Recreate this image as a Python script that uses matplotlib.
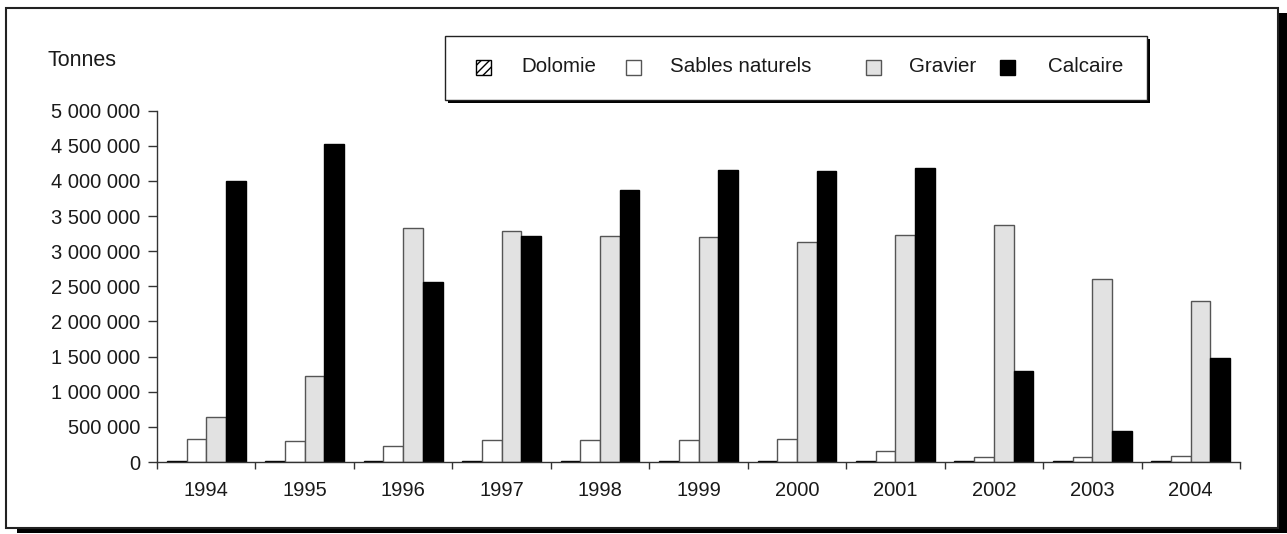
import numpy as np
import matplotlib
matplotlib.use("Agg")
import matplotlib.pyplot as plt
from matplotlib.patches import Rectangle
from matplotlib.ticker import FuncFormatter, MultipleLocator, FixedLocator

plt.rcParams['font.family'] = ['Liberation Sans', 'DejaVu Sans']
plt.rcParams['hatch.linewidth'] = 1.0

# Production annuelle par matériau (tonnes)
years = ['1994', '1995', '1996', '1997', '1998', '1999', '2000', '2001', '2002', '2003', '2004']
dolomie = [9000, 8000, 9000, 8000, 8000, 8000, 9000, 8000, 9000, 8000, 8000]
sables = [323000, 299000, 228000, 309000, 319000, 309000, 333000, 152000, 71000, 77000, 81000]
gravier = [641000, 1220000, 3330000, 3290000, 3215000, 3196000, 3125000, 3230000, 3376000, 2598000, 2290000]
calcaire = [4003000, 4520000, 2565000, 3215000, 3875000, 4160000, 4140000, 4180000, 1296000, 442000, 1480000]

W, H = 1287, 534
fig = plt.figure(figsize=(W / 100, H / 100), dpi=100)


def fx(x):
    return x / W


def fy(y):
    return 1 - y / H


# outer frame with drop shadow
fig.patches.append(Rectangle((fx(17), fy(533)), fx(1290) - fx(17), fy(13) - fy(533),
                             transform=fig.transFigure, facecolor='black', edgecolor='none', zorder=0))
fig.patches.append(Rectangle((fx(6), fy(528)), fx(1278) - fx(6), fy(8) - fy(528),
                             transform=fig.transFigure, facecolor='white', edgecolor='#222222',
                             linewidth=1.5, zorder=1))

ax = fig.add_axes([fx(157), fy(462), fx(1240) - fx(157), fy(110.7) - fy(462)])
ax.set_facecolor('none')
ax.set_zorder(2)

x = np.arange(len(years))
bw = 0.2
series = [
    (dolomie, -0.3, dict(facecolor='white', edgecolor='black', hatch='////', linewidth=1.0), 'Dolomie'),
    (sables, -0.1, dict(facecolor='white', edgecolor='#555555', linewidth=1.0), 'Sables naturels'),
    (gravier, 0.1, dict(facecolor='#e2e2e2', edgecolor='#555555', linewidth=1.0), 'Gravier'),
    (calcaire, 0.3, dict(facecolor='black', edgecolor='black', linewidth=1.0), 'Calcaire'),
]
for vals, off, style, name in series:
    ax.bar(x + off, vals, width=bw, **style)

ax.set_xlim(-0.5, len(years) - 0.5)
ax.set_ylim(0, 5000000)
ax.yaxis.set_major_locator(MultipleLocator(500000))
ax.yaxis.set_major_formatter(FuncFormatter(lambda v, p: f"{int(v):,}".replace(",", " ")))
ax.set_xticks(x)
ax.set_xticklabels(years)
ax.xaxis.set_minor_locator(FixedLocator(np.arange(-0.5, len(years), 1.0)))

for s in ['top', 'right']:
    ax.spines[s].set_visible(False)
for s in ['left', 'bottom']:
    ax.spines[s].set_color('#333333')
    ax.spines[s].set_linewidth(1.0)

ax.tick_params(axis='y', direction='out', length=6.5, width=1.0, color='#333333',
               pad=5.5, labelsize=14.5, labelcolor='#1a1a1a')
ax.tick_params(axis='x', which='major', length=0, pad=14, labelsize=14.5, labelcolor='#1a1a1a')
ax.tick_params(axis='x', which='minor', direction='out', length=5, width=1.0, color='#333333')

fig.text(fx(47), fy(60), 'Tonnes', fontsize=15.5, color='#1a1a1a', va='center', ha='left')

# legend box drawn by hand
lx0, ly0, lx1, ly1 = 445, 36, 1147, 100
fig.patches.append(Rectangle((fx(lx0 + 3), fy(ly1 + 3)), fx(lx1) - fx(lx0), fy(ly0) - fy(ly1),
                             transform=fig.transFigure, facecolor='black', edgecolor='none', zorder=3))
fig.patches.append(Rectangle((fx(lx0), fy(ly1)), fx(lx1) - fx(lx0), fy(ly0) - fy(ly1),
                             transform=fig.transFigure, facecolor='white', edgecolor='#222222',
                             linewidth=1.0, zorder=4))
handle_x = [476, 626, 866, 1000]
text_x = [521, 670, 909, 1048]
for (vals, off, style, name), hx, tx in zip(series, handle_x, text_x):
    fig.patches.append(Rectangle((fx(hx), fy(75)), fx(15), fy(60) - fy(75),
                                 transform=fig.transFigure, zorder=5, **style))
    fig.text(fx(tx), fy(67), name, fontsize=14.8, color='#1a1a1a', va='center', ha='left', zorder=5)

fig.savefig('out.png', dpi=100)
